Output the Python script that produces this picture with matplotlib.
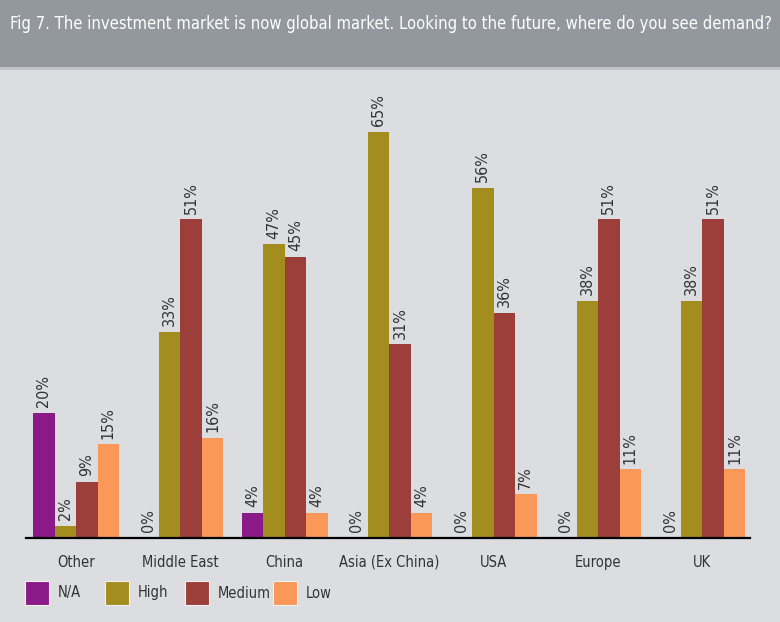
import numpy as np
import matplotlib
matplotlib.use('Agg')
import matplotlib.pyplot as plt
from matplotlib.patches import Rectangle

# Данные
categories = ['Other', 'Middle East', 'China', 'Asia (Ex China)', 'USA', 'Europe', 'UK']
series_names = ['N/A', 'High', 'Medium', 'Low']
na_vals = [20, 0, 4, 0, 0, 0, 0]
high_vals = [2, 33, 47, 65, 56, 38, 38]
medium_vals = [9, 51, 45, 31, 36, 51, 51]
low_vals = [15, 16, 4, 4, 7, 11, 11]

colors = ['#8b1a89', '#a38d1f', '#9c3f3a', '#f99858']
bg = '#dcdde0'
title_bg = '#93979e'

plt.rcParams['font.family'] = ['DejaVu Sans']
plt.rcParams['font.stretch'] = 'condensed'

W, H = 780, 622
fig = plt.figure(figsize=(W / 100, H / 100), dpi=100)
fig.patch.set_facecolor(bg)

# Шапка с заголовком
fig.add_artist(Rectangle((0, 1 - 67 / H), 1, 67 / H, transform=fig.transFigure,
                         facecolor=title_bg, edgecolor='none', zorder=0))
fig.add_artist(Rectangle((0, 1 - 70 / H), 1, 3 / H, transform=fig.transFigure,
                         facecolor='#c2c4c8', edgecolor='none', zorder=0))
fig.text(10 / W, 1 - 24 / H,
         'Fig 7. The investment market is now global market. Looking to the future, where do you see demand?',
         color='white', fontsize=11.9, va='center', ha='left', fontstretch='condensed')

# Оси
px_unit = 104.4
x0_px = 76.0
left_px, right_px = 26, 750
base_px = 538
px_per_pct = 6.25
top_px = 60
ax = fig.add_axes([left_px / W, (H - base_px) / H, (right_px - left_px) / W, (base_px - top_px) / H])
ax.set_facecolor('none')
ax.set_xlim((left_px - x0_px) / px_unit, (right_px - x0_px) / px_unit)
ax.set_ylim(0, (base_px - top_px) / px_per_pct)
for s in ['top', 'right', 'left']:
    ax.spines[s].set_visible(False)
ax.spines['bottom'].set_color('black')
ax.spines['bottom'].set_linewidth(1.6)
ax.set_yticks([])
x = np.arange(len(categories))
ax.set_xticks(x)
ax.set_xticklabels(categories, fontsize=10.5, color='#333333', fontstretch='condensed')
ax.tick_params(axis='x', length=0, pad=12)

width = 21.5 / px_unit
all_vals = [na_vals, high_vals, medium_vals, low_vals]
for k, (vals, c, name) in enumerate(zip(all_vals, colors, series_names)):
    xs = x + (k - 1.5) * width
    ax.bar(xs, vals, width=width, color=c, edgecolor='none', label=name, zorder=2)
    for xi, v in zip(xs, vals):
        ax.annotate(f'{v}%', (xi, v), xytext=(0, 4), textcoords='offset points',
                    rotation=90, ha='center', va='bottom', fontsize=11.5,
                    color='#333333', annotation_clip=False, fontstretch='condensed')

# Легенда (ручная раскладка)
leg_x = [25, 105, 185, 273]
sq = 24
leg_y = 593
for lx, c, name in zip(leg_x, colors, series_names):
    fig.add_artist(Rectangle((lx / W, 1 - (leg_y + sq / 2) / H), sq / W, sq / H,
                             transform=fig.transFigure, facecolor=c,
                             edgecolor='#f0f0f0', linewidth=0.8))
    fig.text((lx + sq + 9) / W, 1 - leg_y / H, name, fontsize=10.5, color='#333333',
             va='center', ha='left', fontstretch='condensed')

fig.savefig('out.png', dpi=100, facecolor=bg)
